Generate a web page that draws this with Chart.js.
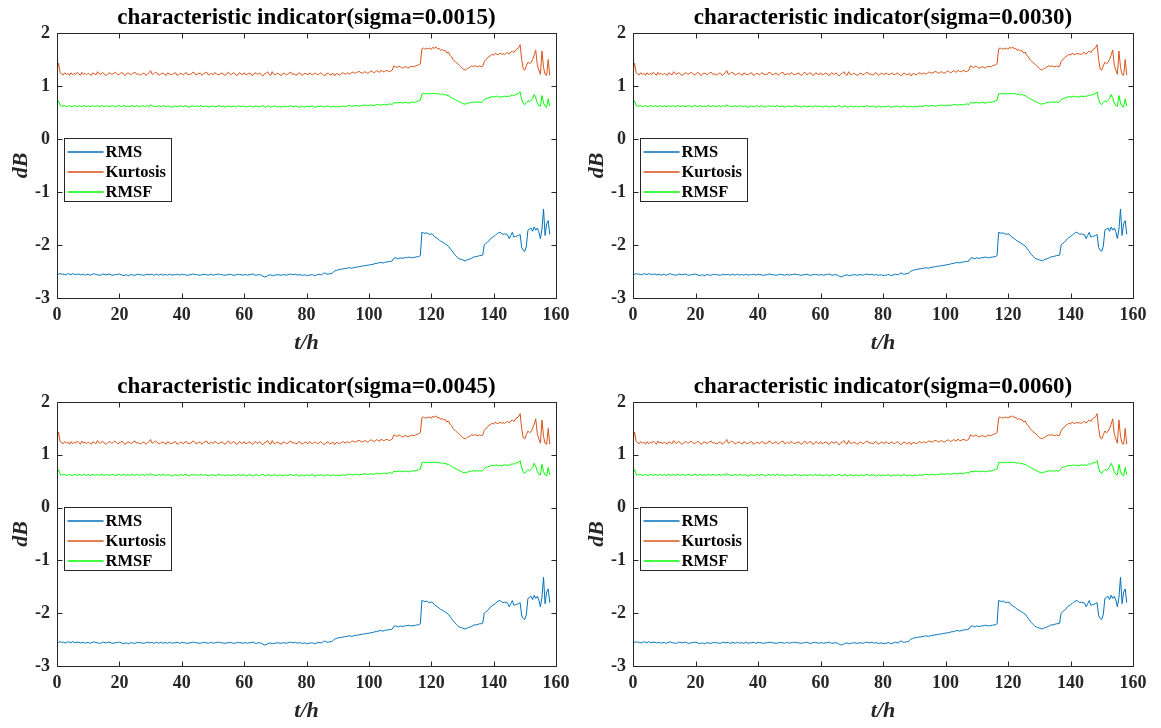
<!DOCTYPE html>
<html>
<head>
<meta charset="utf-8">
<script src="https://cdn.jsdelivr.net/npm/chart.js@4/dist/chart.umd.min.js"></script>
<style>
  html, body { margin: 0; padding: 0; background: #ffffff; }
  body { width: 1161px; height: 728px; position: relative; overflow: hidden; }
  canvas { position: absolute; }
</style>
</head>
<body>
<script>
// ---- data (time in hours) ----
const timeH = [
  0,0.5,1,1.5,2,2.5,3,3.5,4,4.5,
  5,5.5,6,6.5,7,7.5,8,8.5,9,9.5,
  10,10.5,11,11.5,12,12.5,13,13.5,14,14.5,
  15,15.5,16,16.5,17,17.5,18,18.5,19,19.5,
  20,20.5,21,21.5,22,22.5,23,23.5,24,24.5,
  25,25.5,26,26.5,27,27.5,28,28.5,29,29.5,
  30,30.5,31,31.5,32,32.5,33,33.5,34,34.5,
  35,35.5,36,36.5,37,37.5,38,38.5,39,39.5,
  40,40.5,41,41.5,42,42.5,43,43.5,44,44.5,
  45,45.5,46,46.5,47,47.5,48,48.5,49,49.5,
  50,50.5,51,51.5,52,52.5,53,53.5,54,54.5,
  55,55.5,56,56.5,57,57.5,58,58.5,59,59.5,
  60,60.5,61,61.5,62,62.5,63,63.5,64,64.5,
  65,65.5,66,66.5,67,67.5,68,68.5,69,69.5,
  70,70.5,71,71.5,72,72.5,73,73.5,74,74.5,
  75,75.5,76,76.5,77,77.5,78,78.5,79,79.5,
  80,80.5,81,81.5,82,82.5,83,83.5,84,84.5,
  85,85.5,86,86.5,87,87.5,88,88.5,89,89.5,
  90,90.5,91,91.5,92,92.5,93,93.5,94,94.5,
  95,95.5,96,96.5,97,97.5,98,98.5,99,99.5,
  100,100.5,101,101.5,102,102.5,103,103.5,104,104.5,
  105,105.5,106,106.5,107,107.5,108,108.5,109,109.5,
  110,110.5,111,111.5,112,112.5,113,113.5,114,114.5,
  115,115.5,116,
  116.5,117,117.5,118,118.5,119,119.5,120,120.5,121,
  121.5,122,122.5,123,123.5,124,124.5,125,125.5,126,
  126.5,127,127.5,128,128.5,129,129.5,130,130.5,131,
  131.5,132,132.5,133,133.5,134,134.5,135,135.5,136,
  136.5,137,137.5,138,138.5,139,139.5,140,140.5,141,
  141.5,142,142.5,143,143.5,144,144.5,145,145.5,146,
  146.5,147,147.5,148,148.5,149,149.5,150,150.5,151,
  151.5,152,152.5,153,153.5,154,154.5,155,155.5,156,
  156.5,157,157.5,158
];

const rmsValues = [
  -2.58,-2.55,-2.54,-2.55,-2.55,-2.56,-2.56,-2.54,-2.55,-2.56,
  -2.54,-2.55,-2.56,-2.55,-2.55,-2.56,-2.56,-2.55,-2.57,-2.56,
  -2.55,-2.57,-2.56,-2.55,-2.54,-2.56,-2.56,-2.57,-2.57,-2.55,
  -2.55,-2.56,-2.56,-2.55,-2.55,-2.57,-2.57,-2.56,-2.56,-2.55,
  -2.55,-2.56,-2.57,-2.58,-2.56,-2.57,-2.58,-2.56,-2.56,-2.57,
  -2.57,-2.56,-2.55,-2.56,-2.56,-2.57,-2.57,-2.56,-2.55,-2.56,
  -2.56,-2.55,-2.57,-2.56,-2.55,-2.57,-2.56,-2.55,-2.57,-2.56,
  -2.56,-2.57,-2.55,-2.56,-2.57,-2.56,-2.56,-2.55,-2.56,-2.57,
  -2.55,-2.56,-2.56,-2.57,-2.57,-2.56,-2.56,-2.55,-2.55,-2.56,
  -2.56,-2.57,-2.57,-2.56,-2.55,-2.56,-2.56,-2.57,-2.56,-2.55,
  -2.57,-2.56,-2.56,-2.55,-2.55,-2.56,-2.56,-2.57,-2.57,-2.56,
  -2.56,-2.55,-2.56,-2.57,-2.57,-2.56,-2.55,-2.56,-2.56,-2.57,
  -2.56,-2.56,-2.57,-2.56,-2.56,-2.55,-2.55,-2.57,-2.57,-2.56,
  -2.56,-2.57,-2.59,-2.60,-2.60,-2.58,-2.57,-2.56,-2.58,-2.57,
  -2.57,-2.56,-2.56,-2.57,-2.57,-2.56,-2.56,-2.57,-2.56,-2.55,
  -2.55,-2.56,-2.56,-2.55,-2.57,-2.56,-2.56,-2.57,-2.57,-2.56,
  -2.58,-2.57,-2.57,-2.56,-2.56,-2.58,-2.57,-2.56,-2.55,-2.56,
  -2.56,-2.53,-2.53,-2.55,-2.55,-2.54,-2.54,-2.52,-2.49,-2.48,
  -2.47,-2.46,-2.46,-2.45,-2.45,-2.44,-2.44,-2.43,-2.43,-2.44,
  -2.43,-2.42,-2.42,-2.41,-2.41,-2.40,-2.40,-2.39,-2.39,-2.38,
  -2.38,-2.37,-2.37,-2.36,-2.35,-2.35,-2.34,-2.33,-2.33,-2.34,
  -2.33,-2.32,-2.32,-2.31,-2.31,-2.30,-2.25,-2.24,-2.25,-2.26,
  -2.24,-2.25,-2.25,-2.24,-2.24,-2.23,-2.23,-2.24,-2.24,-2.23,
  -2.23,-2.22,-2.22,
  -2.20,-1.76,-1.77,-1.78,-1.77,-1.79,-1.80,-1.79,-1.80,-1.84,
  -1.86,-1.88,-1.90,-1.93,-1.94,-1.96,-1.98,-2.00,-2.02,-2.06,
  -2.10,-2.14,-2.18,-2.21,-2.24,-2.26,-2.27,-2.28,-2.29,-2.30,
  -2.28,-2.27,-2.26,-2.25,-2.23,-2.22,-2.22,-2.21,-2.20,-2.20,
  -2.19,-2.00,-1.97,-1.95,-1.92,-1.88,-1.86,-1.84,-1.82,-1.79,
  -1.77,-1.76,-1.78,-1.80,-1.79,-1.80,-1.81,-1.88,-1.82,-1.76,
  -1.85,-1.84,-1.83,-1.82,-1.80,-2.05,-2.10,-2.12,-2.02,-1.72,
  -1.70,-1.68,-1.74,-1.66,-1.72,-1.68,-1.75,-1.88,-1.70,-1.32,
  -1.82,-1.60,-1.54,-1.80
];

const kurtosisValues = [
  1.28,1.43,1.25,1.23,1.21,1.25,1.22,1.24,1.20,1.25,
  1.21,1.24,1.22,1.26,1.23,1.20,1.26,1.22,1.24,1.21,
  1.24,1.22,1.20,1.25,1.23,1.21,1.27,1.23,1.22,1.25,
  1.24,1.20,1.21,1.24,1.25,1.22,1.23,1.26,1.24,1.21,
  1.22,1.25,1.25,1.21,1.20,1.24,1.24,1.22,1.22,1.25,
  1.26,1.22,1.23,1.21,1.21,1.24,1.24,1.20,1.22,1.25,
  1.29,1.22,1.23,1.26,1.25,1.21,1.21,1.24,1.24,1.22,
  1.20,1.25,1.23,1.21,1.22,1.24,1.25,1.20,1.21,1.24,
  1.23,1.21,1.24,1.25,1.21,1.22,1.22,1.26,1.25,1.21,
  1.22,1.24,1.24,1.20,1.23,1.25,1.26,1.21,1.22,1.24,
  1.21,1.25,1.24,1.21,1.22,1.23,1.25,1.21,1.20,1.24,
  1.26,1.22,1.22,1.25,1.24,1.20,1.21,1.25,1.23,1.21,
  1.25,1.21,1.22,1.24,1.24,1.20,1.21,1.25,1.23,1.22,
  1.25,1.21,1.19,1.23,1.24,1.27,1.22,1.20,1.27,1.22,
  1.21,1.24,1.23,1.21,1.20,1.24,1.24,1.21,1.22,1.25,
  1.26,1.22,1.23,1.21,1.21,1.25,1.24,1.20,1.22,1.24,
  1.23,1.21,1.25,1.22,1.21,1.24,1.24,1.21,1.22,1.25,
  1.23,1.20,1.20,1.24,1.24,1.21,1.22,1.24,1.19,1.23,
  1.23,1.21,1.22,1.25,1.24,1.22,1.25,1.23,1.23,1.26,
  1.26,1.24,1.25,1.27,1.27,1.25,1.24,1.27,1.26,1.24,
  1.25,1.28,1.28,1.25,1.26,1.29,1.27,1.26,1.30,1.27,
  1.27,1.29,1.29,1.27,1.28,1.30,1.38,1.36,1.35,1.37,
  1.37,1.34,1.34,1.36,1.36,1.34,1.35,1.37,1.37,1.36,
  1.38,1.39,1.40,
  1.42,1.70,1.72,1.69,1.71,1.70,1.72,1.69,1.73,1.71,
  1.74,1.70,1.71,1.67,1.69,1.66,1.67,1.62,1.64,1.58,
  1.55,1.50,1.47,1.44,1.42,1.39,1.36,1.33,1.31,1.30,
  1.33,1.34,1.36,1.38,1.37,1.38,1.37,1.36,1.38,1.36,
  1.37,1.46,1.50,1.52,1.56,1.57,1.60,1.58,1.62,1.60,
  1.59,1.62,1.60,1.61,1.59,1.62,1.63,1.60,1.64,1.66,
  1.63,1.68,1.70,1.72,1.78,1.50,1.32,1.30,1.38,1.45,
  1.42,1.44,1.50,1.58,1.68,1.40,1.30,1.22,1.66,1.35,
  1.22,1.20,1.50,1.20
];

const rmsfValues = [
  0.66,0.72,0.63,0.62,0.62,0.63,0.61,0.62,0.63,0.61,
  0.61,0.63,0.62,0.61,0.63,0.62,0.61,0.63,0.62,0.61,
  0.63,0.61,0.62,0.63,0.61,0.62,0.63,0.61,0.62,0.63,
  0.61,0.62,0.63,0.61,0.62,0.62,0.63,0.61,0.61,0.63,
  0.63,0.61,0.62,0.63,0.61,0.62,0.62,0.61,0.63,0.62,
  0.61,0.63,0.62,0.61,0.62,0.63,0.61,0.62,0.63,0.61,
  0.65,0.62,0.62,0.61,0.61,0.63,0.62,0.61,0.63,0.62,
  0.61,0.62,0.62,0.60,0.60,0.62,0.62,0.61,0.61,0.63,
  0.62,0.61,0.63,0.62,0.61,0.60,0.62,0.63,0.61,0.62,
  0.62,0.61,0.63,0.62,0.61,0.62,0.62,0.60,0.61,0.62,
  0.62,0.61,0.61,0.62,0.63,0.61,0.62,0.61,0.60,0.62,
  0.62,0.61,0.61,0.62,0.62,0.60,0.63,0.62,0.61,0.62,
  0.62,0.60,0.61,0.62,0.62,0.61,0.60,0.62,0.62,0.61,
  0.61,0.62,0.63,0.61,0.60,0.62,0.62,0.60,0.61,0.62,
  0.62,0.60,0.61,0.62,0.60,0.61,0.62,0.61,0.61,0.62,
  0.63,0.61,0.61,0.62,0.62,0.60,0.60,0.62,0.61,0.60,
  0.62,0.61,0.61,0.62,0.62,0.60,0.60,0.62,0.61,0.62,
  0.62,0.60,0.61,0.62,0.62,0.61,0.60,0.62,0.61,0.60,
  0.62,0.61,0.61,0.62,0.62,0.61,0.62,0.63,0.63,0.62,
  0.62,0.63,0.63,0.62,0.62,0.63,0.63,0.64,0.64,0.63,
  0.63,0.64,0.64,0.63,0.64,0.65,0.65,0.64,0.64,0.65,
  0.65,0.64,0.65,0.66,0.66,0.65,0.69,0.68,0.68,0.69,
  0.69,0.68,0.68,0.69,0.69,0.68,0.68,0.69,0.70,0.69,
  0.70,0.71,0.72,
  0.73,0.85,0.86,0.85,0.86,0.85,0.86,0.85,0.86,0.86,
  0.85,0.86,0.85,0.84,0.85,0.83,0.84,0.82,0.82,0.80,
  0.78,0.76,0.75,0.73,0.72,0.70,0.69,0.67,0.66,0.66,
  0.67,0.68,0.69,0.69,0.70,0.69,0.70,0.69,0.70,0.69,
  0.70,0.74,0.76,0.77,0.78,0.79,0.80,0.79,0.80,0.81,
  0.79,0.80,0.79,0.80,0.81,0.80,0.81,0.80,0.82,0.83,
  0.82,0.84,0.85,0.86,0.89,0.75,0.67,0.65,0.69,0.72,
  0.70,0.73,0.76,0.84,0.78,0.68,0.63,0.62,0.82,0.68,
  0.62,0.60,0.76,0.62
];

const seriesNames = ['RMS', 'Kurtosis', 'RMSF'];
const seriesColors = ['#0072BD', '#D95319', '#00FF00'];
const sigmaLabels = ['0.0015', '0.0030', '0.0045', '0.0060'];
const xTicks = [0, 20, 40, 60, 80, 100, 120, 140, 160];
const yTicks = [-3, -2, -1, 0, 1, 2];

// ---- layout ----
const FONT = "'Liberation Serif', 'Times New Roman', serif";
const panels = [
  { left: 0,   top: 0,   w: 580, h: 364, yW: 57, padR: 24, tH: 33, tPad: 4.5, xH: 66, xtPad: 7.8, ytPad: 7.8 },
  { left: 580, top: 0,   w: 581, h: 364, yW: 53, padR: 28, tH: 33, tPad: 4.5, xH: 66, xtPad: 7.8, ytPad: 3.8 },
  { left: 0,   top: 364, w: 580, h: 364, yW: 57, padR: 24, tH: 38, tPad: 8.9, xH: 62, xtPad: 3.8, ytPad: 7.8 },
  { left: 580, top: 364, w: 581, h: 364, yW: 53, padR: 28, tH: 38, tPad: 8.9, xH: 62, xtPad: 3.8, ytPad: 3.8 }
];

const framePlugin = {
  id: 'matlabFrame',
  afterDatasetsDraw(chart) {
    const ctx = chart.ctx;
    const ca = chart.chartArea;
    const xs = chart.scales.x, ys = chart.scales.y;
    const L = Math.round(ca.left) + 0.5, R = Math.round(ca.right) + 0.5;
    const T = Math.round(ca.top) + 0.5, B = Math.round(ca.bottom) + 0.5;
    ctx.save();
    ctx.strokeStyle = '#262626';
    ctx.lineWidth = 1;
    ctx.beginPath();
    ctx.rect(L, T, R - L, B - T);
    const tl = 5;
    xs.ticks.forEach(t => {
      const px = Math.round(xs.getPixelForValue(t.value)) + 0.5;
      ctx.moveTo(px, B); ctx.lineTo(px, B - tl);
      ctx.moveTo(px, T); ctx.lineTo(px, T + tl);
    });
    ys.ticks.forEach(t => {
      const py = Math.round(ys.getPixelForValue(t.value)) + 0.5;
      ctx.moveTo(L, py); ctx.lineTo(L + tl, py);
      ctx.moveTo(R, py); ctx.lineTo(R - tl, py);
    });
    ctx.stroke();

    // legend box (inside the axes, near the left)
    const bx = Math.round(ca.left + 7) + 0.5;
    const by = Math.round(ys.getPixelForValue(0)) - 1 + 0.5;
    const bw = 107, bh = 63;
    ctx.fillStyle = '#ffffff';
    ctx.fillRect(bx, by, bw, bh);
    ctx.strokeStyle = '#262626';
    ctx.strokeRect(bx, by, bw, bh);
    ctx.font = "bold 16.5px " + FONT;
    ctx.textBaseline = 'middle';
    ctx.textAlign = 'left';
    chart.data.datasets.forEach((ds, k) => {
      const yy = Math.round(by + 13 + 20 * k);
      ctx.strokeStyle = ds.borderColor;
      ctx.lineWidth = 1.5;
      ctx.beginPath();
      ctx.moveTo(bx + 3, yy); ctx.lineTo(bx + 39, yy);
      ctx.stroke();
      ctx.fillStyle = '#000000';
      ctx.fillText(ds.label, bx + 41, yy + 1);
    });
    ctx.restore();
  }
};

function buildDataset(k, values) {
  return {
    label: seriesNames[k],
    data: timeH.map((t, i) => ({ x: t, y: values[i] })),
    borderColor: seriesColors[k],
    backgroundColor: seriesColors[k],
    borderWidth: 1,
    pointRadius: 0,
    tension: 0,
    fill: false
  };
}

panels.forEach((p, idx) => {
  const cv = document.createElement('canvas');
  cv.width = p.w; cv.height = p.h;
  cv.style.left = p.left + 'px'; cv.style.top = p.top + 'px';
  cv.style.width = p.w + 'px'; cv.style.height = p.h + 'px';
  document.body.appendChild(cv);

  new Chart(cv.getContext('2d'), {
    type: 'line',
    data: {
      datasets: [
        buildDataset(0, rmsValues),
        buildDataset(1, kurtosisValues),
        buildDataset(2, rmsfValues)
      ]
    },
    options: {
      responsive: false,
      animation: false,
      devicePixelRatio: 1,
      layout: { padding: { left: 0, right: p.padR, top: 0, bottom: 0 } },
      plugins: {
        legend: { display: false },
        tooltip: { enabled: false },
        title: { display: false }
      },
      scales: {
        x: {
          type: 'linear',
          min: 0, max: 160,
          afterBuildTicks: (s) => { s.ticks = xTicks.map(v => ({ value: v })); },
          afterFit: (s) => { s.height = p.xH; },
          grid: { display: false, drawTicks: false, tickLength: 0 },
          border: { display: false },
          ticks: {
            color: '#262626', padding: 7, maxRotation: 0, autoSkip: false,
            font: { family: FONT, size: 18, weight: 'bold' }
          },
          title: {
            display: true, text: 't/h', color: '#262626',
            font: { family: FONT, size: 22, weight: 'bold', style: 'italic', lineHeight: 1.2 },
            padding: { top: 0, bottom: p.xtPad }
          }
        },
        xTop: {
          type: 'linear',
          position: 'top',
          min: 0, max: 160,
          afterFit: (s) => { s.height = p.tH; },
          grid: { display: false, drawTicks: false, tickLength: 0 },
          border: { display: false },
          ticks: { display: false },
          title: {
            display: true,
            text: 'characteristic indicator(sigma=' + sigmaLabels[idx] + ')',
            color: '#000000',
            font: { family: FONT, size: 23, weight: 'bold', lineHeight: 1.2 },
            padding: { top: p.tPad, bottom: 0 }
          }
        },
        y: {
          type: 'linear',
          min: -3, max: 2,
          afterBuildTicks: (s) => { s.ticks = yTicks.map(v => ({ value: v })); },
          afterFit: (s) => { s.width = p.yW; },
          grid: { display: false, drawTicks: false, tickLength: 0 },
          border: { display: false },
          ticks: {
            color: '#262626', padding: 7, autoSkip: false,
            font: { family: FONT, size: 18, weight: 'bold' }
          },
          title: {
            display: true, text: 'dB', color: '#262626',
            font: { family: FONT, size: 22, weight: 'bold', style: 'italic', lineHeight: 1.2 },
            padding: { top: p.ytPad, bottom: 0 }
          }
        }
      }
    },
    plugins: [framePlugin]
  });
});
</script>
</body>
</html>
